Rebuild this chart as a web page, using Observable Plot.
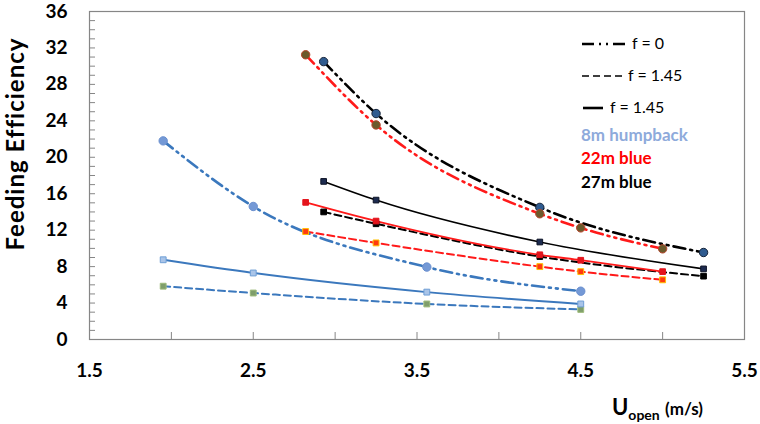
<!DOCTYPE html>
<html>
<head>
<meta charset="utf-8">
<script src="https://cdn.jsdelivr.net/npm/d3@7"></script>
<script src="https://cdn.jsdelivr.net/npm/@observablehq/plot@0.6"></script>
<style>
  html, body { margin: 0; padding: 0; background: #fff; }
  #wrap { position: relative; width: 760px; height: 424px; font-family: Lato, "Open Sans", sans-serif; }
  #ytitle { position: absolute; left: 15px; top: 144px; transform: translate(-50%, -50%) rotate(-90deg); font-weight: bold; font-size: 24px; letter-spacing: 1px; line-height: 1.1; white-space: nowrap; color: #000; }
  #xtitle { position: absolute; left: 612px; top: 393px; font-weight: bold; font-size: 22px; white-space: nowrap; color: #000; }
  #xtitle sub { font-size: 14px; vertical-align: -5px; }
  #xtitle .unit { font-size: 17px; }
  .leg { position: absolute; white-space: nowrap; font-size: 16px; line-height: 1; }
  .legb { position: absolute; white-space: nowrap; font-size: 17px; font-weight: bold; line-height: 1; }
</style>
</head>
<body>
<div id="wrap">
  <div id="chart"></div>
  <div id="ytitle">Feeding Efficiency</div>
  <div id="xtitle">U<sub>open</sub> <span class="unit">(m/s)</span></div>
  <div id="legend"></div>
</div>
<script>
// ---- data ----
const uHump = [1.95, 2.5, 3.56, 4.5];
const u22 = [2.82, 3.25, 4.25, 4.5, 5.0];
const u27 = [2.93, 3.25, 4.25, 5.25];

const humpF0 = [21.8, 14.6, 7.95, 5.3];
const humpSolid = [8.75, 7.3, 5.2, 3.9];
const humpDashed = [5.85, 5.1, 3.9, 3.3];

const blue22F0 = [31.25, 23.55, 13.8, 12.25, 9.95];
const blue22Solid = [15.05, 13.0, 9.3, 8.7, 7.45];
const blue22Dashed = [11.85, 10.6, 8.0, 7.45, 6.55];

const blue27F0 = [30.5, 24.8, 14.5, 9.55];
const blue27Solid = [17.35, 15.3, 10.7, 7.75];
const blue27Dashed = [14.0, 12.7, 9.1, 6.95];

const xTicksMajor = [1.5, 2.5, 3.5, 4.5, 5.5];
const xTicksMinor = [1.5, 2, 2.5, 3, 3.5, 4, 4.5, 5, 5.5];
const yTicksMajor = [0, 4, 8, 12, 16, 20, 24, 28, 32, 36];
const yTicksMinor = d3.range(0, 37, 1);

const legendLines = ["f = 0", "f = 1.45", "f = 1.45"];
const legendSpecies = ["8m humpback", "22m blue", "27m blue"];

// ---- styles ----
const BLUE = "#3b78bd", RED = "#ff1a1a", BLACK = "#000";
const DASHDOT = "12,5,2,5,2,5", DASH = "7,4";

// drawing order: 27m first, then 22m, then humpback on top
const series = [
  {u: u27,   v: blue27Dashed,stroke: BLACK,dash: DASH,    w: 2.0, sym: "square", fill: "#000",    ms: "#000",    r: 3.2},
  {u: u27,   v: blue27Solid,stroke: BLACK, dash: null,    w: 1.6, sym: "square", fill: "#1d2b4f", ms: "#0d1326", r: 3.2},
  {u: u27,   v: blue27F0,   stroke: BLACK, dash: DASHDOT, w: 2.6, sym: "circle", fill: "#2f5b8f", ms: "#16243a", r: 4.2},
  {u: u22,   v: blue22Dashed,stroke: RED,  dash: DASH,    w: 2.0, sym: "square", fill: "#ff3a10", ms: "#ffc000", r: 3.3},
  {u: u22,   v: blue22Solid,stroke: RED,   dash: null,    w: 1.8, sym: "square", fill: "#e4141c", ms: "#e4141c", r: 3.2},
  {u: u22,   v: blue22F0,   stroke: RED,   dash: DASHDOT, w: 2.6, sym: "circle", fill: "#6b5a2c", ms: "#b5452a", r: 4.2},
  {u: uHump, v: humpDashed, stroke: BLUE,  dash: DASH,    w: 2.0, sym: "square", fill: "#7f9e6b", ms: "#9dbb7a", r: 3.3},
  {u: uHump, v: humpSolid,  stroke: BLUE,  dash: null,    w: 2.0, sym: "square", fill: "#a9c4e8", ms: "#6f9fd6", r: 3.3},
  {u: uHump, v: humpF0,     stroke: BLUE,  dash: DASHDOT, w: 2.6, sym: "circle", fill: "#7499d6", ms: "#6a8fcf", r: 4.2}
];

const rows = (u, v) => u.map((x, i) => ({u: x, v: v[i]}));

const lineMarks = series.map(s => Plot.line(rows(s.u, s.v), {
  x: "u", y: "v", curve: "monotone-x", stroke: s.stroke, strokeWidth: s.w,
  strokeDasharray: s.dash ?? undefined
}));
const dotMarks = series.map(s => Plot.dot(rows(s.u, s.v), {
  x: "u", y: "v", symbol: s.sym, r: s.r, fill: s.fill, stroke: s.ms, strokeWidth: 1
}));

const plot = Plot.plot({
  width: 760,
  height: 424,
  marginLeft: 89,
  marginRight: 16,
  marginTop: 11,
  marginBottom: 85,
  style: {fontFamily: "Lato, 'Open Sans', sans-serif", fontSize: "19px", fontWeight: "bold", color: "#000", background: "#fff"},
  x: {domain: [1.5, 5.5], label: null},
  y: {domain: [0, 36], label: null},
  marks: [
    Plot.frame({stroke: "#868686", strokeWidth: 1.2}),
    Plot.axisY(yTicksMinor, {tickSize: 6, dx: 6, tickFormat: () => "", stroke: "#868686", label: null}),
    Plot.axisY(yTicksMajor, {tickSize: 0, tickPadding: 22, label: null, fill: "#000"}),
    Plot.axisX(xTicksMinor, {tickSize: 7, dy: -7, tickFormat: () => "", stroke: "#868686", label: null}),
    Plot.axisX(xTicksMajor, {tickSize: 0, tickPadding: 24, label: null, fill: "#000", tickFormat: d => d.toFixed(1)}),
    ...lineMarks,
    ...dotMarks
  ]
});
document.getElementById("chart").appendChild(plot);

// ---- legend (HTML overlay) ----
const leg = document.getElementById("legend");
const legLineSpecs = [
  {x1: 582, x2: 627, y: 44, dash: DASHDOT, w: 2.4, tx: 632},
  {x1: 582, x2: 625, y: 76, dash: DASH, w: 1.6, tx: 628},
  {x1: 583, x2: 603, y: 108, dash: null, w: 2.6, tx: 610}
];
const svgNS = "http://www.w3.org/2000/svg";
const lsvg = document.createElementNS(svgNS, "svg");
lsvg.setAttribute("width", 760); lsvg.setAttribute("height", 424);
lsvg.style.position = "absolute"; lsvg.style.left = "0"; lsvg.style.top = "0";
legLineSpecs.forEach((s, i) => {
  const ln = document.createElementNS(svgNS, "line");
  ln.setAttribute("x1", s.x1); ln.setAttribute("x2", s.x2);
  ln.setAttribute("y1", s.y); ln.setAttribute("y2", s.y);
  ln.setAttribute("stroke", "#000"); ln.setAttribute("stroke-width", s.w);
  if (s.dash) ln.setAttribute("stroke-dasharray", s.dash);
  lsvg.appendChild(ln);
  const t = document.createElement("div");
  t.className = "leg";
  t.textContent = legendLines[i];
  t.style.left = s.tx + "px";
  t.style.top = (s.y - 9) + "px";
  leg.appendChild(t);
});
leg.appendChild(lsvg);
const spColors = ["#8eaadb", "#ff0000", "#000"];
const spY = [136, 159, 183];
legendSpecies.forEach((name, i) => {
  const t = document.createElement("div");
  t.className = "legb";
  t.textContent = name;
  t.style.left = "581px";
  t.style.top = (spY[i] - 10) + "px";
  t.style.color = spColors[i];
  leg.appendChild(t);
});
</script>
</body>
</html>
